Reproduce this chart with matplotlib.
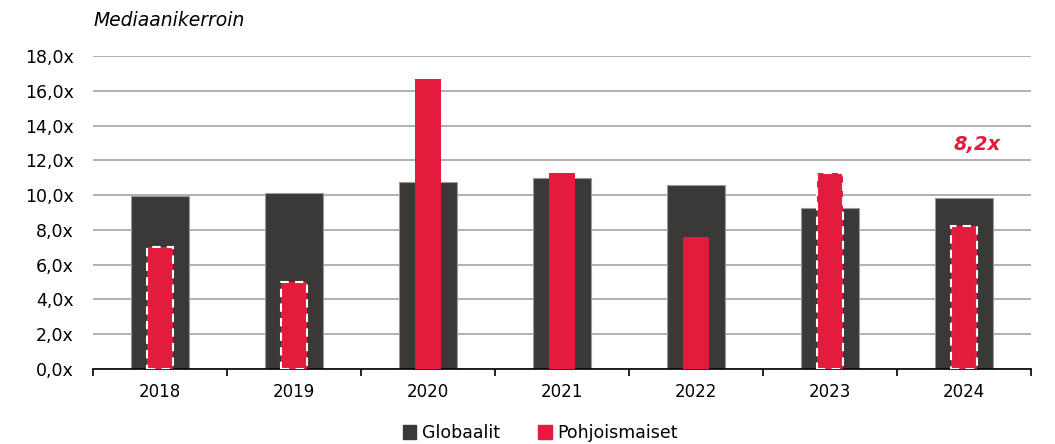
import matplotlib.pyplot as plt
from matplotlib.patches import Patch
import numpy as np

years = ['2018', '2019', '2020', '2021', '2022', '2023', '2024']
globaalit = [9.95, 10.15, 10.75, 11.0, 10.6, 9.25, 9.85]
pohjoismaiset = [7.0, 5.0, 16.7, 11.3, 7.6, 11.3, 8.2]
# vuodet, joiden pohjoismainen luku on katkoviivalla rajattu
dashed = [True, True, False, False, False, True, True]
yticks = [0, 2, 4, 6, 8, 10, 12, 14, 16, 18]

gray = '#3a3938'
red = '#e31b3c'

plt.rcParams['font.family'] = ['DejaVu Sans']

fig = plt.figure(figsize=(10.55, 4.44), dpi=100)
ax = fig.add_axes([93 / 1055, 75 / 444, 938 / 1055, 313 / 444])

x = np.arange(len(years))
ax.bar(x, globaalit, width=0.43, color=gray, edgecolor='#9a9a9a', linewidth=0.8, zorder=2)
for i, v in enumerate(pohjoismaiset):
    if dashed[i]:
        ax.bar(x[i], v, width=0.2, color=red, edgecolor='white', linewidth=1.5,
               linestyle=(0, (4, 3)), zorder=3)
    else:
        ax.bar(x[i], v, width=0.2, color=red, zorder=3)

ax.text(x[-1] + 0.1, 12.9, '8,2x', color=red, fontsize=14, fontweight='bold',
        fontstyle='italic', ha='center', va='center')

ax.set_xlim(-0.5, len(years) - 0.5)
ax.set_ylim(0, 18)
ax.set_yticks(yticks)
ax.set_yticklabels([f'{t:.1f}x'.replace('.', ',') for t in yticks], fontsize=12.5)
ax.set_xticks(x)
ax.set_xticklabels(years, fontsize=12)
ax.set_xticks(np.arange(len(years) + 1) - 0.5, minor=True)
ax.tick_params(axis='x', which='major', length=0, pad=10)
ax.tick_params(axis='x', which='minor', length=5, width=1.2, direction='out')
ax.tick_params(axis='y', length=0, pad=14)
ax.grid(axis='y', color='#b0b0b0', linewidth=1.4, zorder=0)
ax.set_axisbelow(True)
for s in ['top', 'right', 'left']:
    ax.spines[s].set_visible(False)
ax.spines['bottom'].set_linewidth(1.2)

fig.text(93 / 1055, 1 - 20 / 444, 'Mediaanikerroin', fontsize=13.5, fontstyle='italic',
         ha='left', va='center')

handles = [Patch(color=gray, label='Globaalit'), Patch(color=red, label='Pohjoismaiset')]
fig.legend(handles=handles, loc='center', bbox_to_anchor=(540 / 1055, 1 - 433 / 444), ncol=2,
           frameon=False, fontsize=12.5, handlelength=0.8, handleheight=0.8,
           handletextpad=0.3, columnspacing=2.2)

fig.savefig('out.png', dpi=100)
